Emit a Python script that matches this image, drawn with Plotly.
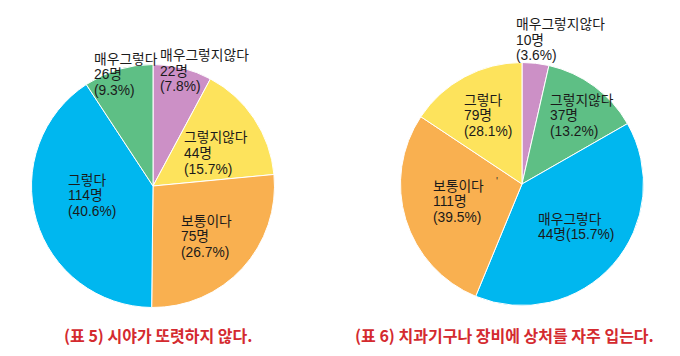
import plotly.graph_objects as go

W, H = 680, 356

# ---- data ----
left_categories = ["매우그렇지않다", "그렇지않다", "보통이다", "그렇다", "매우그렇다"]
left_counts = [22, 44, 75, 114, 26]
left_pcts = ["7.8%", "15.7%", "26.7%", "40.6%", "9.3%"]
left_colors = ["#cc90c6", "#fde35c", "#f9b050", "#00b7ef", "#5ebf85"]

# slice sizes as drawn in the reference (right chart)
right_slice_values = [10, 37, 111, 79, 44]
right_colors = ["#cc90c6", "#5ebf85", "#00b7ef", "#f9b050", "#fde35c"]
# labels as printed on the reference (right chart)
right_categories = ["매우그렇지않다", "그렇지않다", "매우그렇다", "보통이다", "그렇다"]
right_counts = [10, 37, 44, 111, 79]
right_pcts = ["3.6%", "13.2%", "15.7%", "39.5%", "28.1%"]

captions = ["(표 5) 시야가 또렷하지 않다.", "(표 6) 치과기구나 장비에 상처를 자주 입는다."]

# label positions (pixel left x, first-line centre y)
left_label_pos = [(159, 55.5), (183, 138), (180, 221), (67, 180), (93, 59)]
right_label_pos = [(515, 24.5), (549, 100), (537, 219), (432, 186), (463, 100)]
right_label_inline = [False, False, True, False, False]
LINE = 15.6


def px_dom(cx, cy, r):
    return dict(x=[(cx - r) / W, (cx + r) / W], y=[1 - (cy + r) / H, 1 - (cy - r) / H])


fig = go.Figure()
fig.add_trace(go.Pie(
    values=left_counts, labels=left_categories, sort=False, direction="clockwise",
    rotation=0, textinfo="none", hoverinfo="label+value+percent",
    marker=dict(colors=left_colors, line=dict(color="white", width=1)),
    domain=px_dom(153, 186, 121.5), showlegend=False))
fig.add_trace(go.Pie(
    values=right_slice_values, labels=[f"s{i}" for i in range(5)], sort=False,
    direction="clockwise", rotation=0, textinfo="none",
    marker=dict(colors=right_colors, line=dict(color="white", width=1)),
    domain=px_dom(522, 184, 121.5), showlegend=False))

FONT = "Liberation Sans, Noto Sans CJK KR"
anns = []


def add_lines(lines, x, y0):
    for i, ln in enumerate(lines):
        anns.append(dict(x=x / W, y=1 - (y0 + i * LINE) / H, xref="paper", yref="paper",
                         xanchor="left", yanchor="middle", align="left", showarrow=False,
                         borderpad=0, text=ln,
                         font=dict(family=FONT, size=13.8, color="#1a1a1a")))


for cat, n, p, (x, y) in zip(left_categories, left_counts, left_pcts, left_label_pos):
    add_lines([cat, f"{n}명", f"({p})"], x, y)
for cat, n, p, (x, y), inl in zip(right_categories, right_counts, right_pcts,
                                  right_label_pos, right_label_inline):
    lines = [cat, f"{n}명({p})"] if inl else [cat, f"{n}명", f"({p})"]
    add_lines(lines, x, y)

# stray tick mark visible in the reference
anns.append(dict(x=500 / W, y=1 - 181 / H, xref="paper", yref="paper", showarrow=False,
                 text="'", font=dict(family=FONT, size=10, color="#333")))

for cap, cx in zip(captions, [158, 504]):
    anns.append(dict(x=cx / W, y=1 - 335 / H, xref="paper", yref="paper",
                     xanchor="center", yanchor="middle", showarrow=False,
                     text=f"<b>{cap}</b>",
                     font=dict(family="Noto Sans CJK KR", size=16, color="#d42a2f")))

fig.update_layout(width=W, height=H, margin=dict(l=0, r=0, t=0, b=0),
                  paper_bgcolor="white", plot_bgcolor="white", annotations=anns)
fig.write_html("out.html", config={"displayModeBar": False},
               post_script="document.body.style.margin='0';document.body.style.padding='0';")
